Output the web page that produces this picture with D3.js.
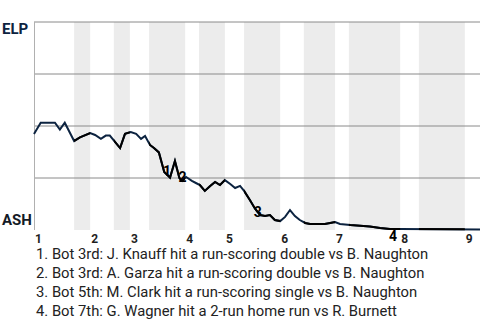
<!DOCTYPE html>
<html>
<head>
<meta charset="utf-8">
<script src="https://cdn.jsdelivr.net/npm/d3@7"></script>
<style>
  body { margin: 0; background: #fff; }
  text { font-family: Roboto, "Noto Sans", sans-serif; }
</style>
</head>
<body>
<div id="chart"></div>
<script>
// game progress (0-100) and ELP win probability for each play
var progress = [0, 1.5, 4.7, 5.8, 6.9, 9.0, 10.3, 12.6, 13.7, 15.0, 16.1, 17.0, 19.3, 20.4, 21.7, 22.9,
    24.0, 24.9, 26.0, 26.9, 28.0, 29.2, 30.5, 31.6, 32.6, 33.2, 34.1, 35.4, 36.3, 37.2, 38.3, 39.5,
    40.6, 41.7, 42.8, 44.0, 45.1, 46.2, 47.1, 48.4, 49.6, 50.7, 51.8, 52.9, 54.0, 55.2, 56.3, 57.4,
    58.5, 59.6, 60.8, 61.9, 65.2, 66.4, 67.5, 68.6, 70.9, 72.4, 75.3, 77.6, 79.8, 82.1, 100];
var winProb = [0.462, 0.516, 0.516, 0.483, 0.516, 0.428, 0.445, 0.466, 0.457, 0.438, 0.454, 0.454, 0.394, 0.462, 0.471, 0.462,
    0.438, 0.452, 0.409, 0.394, 0.373, 0.279, 0.252, 0.332, 0.250, 0.236, 0.255, 0.236, 0.226, 0.216, 0.188, 0.212,
    0.231, 0.216, 0.240, 0.221, 0.202, 0.212, 0.188, 0.144, 0.101, 0.072, 0.067, 0.072, 0.048, 0.043, 0.063, 0.096,
    0.067, 0.048, 0.034, 0.029, 0.029, 0.034, 0.038, 0.029, 0.024, 0.022, 0.017, 0.010, 0.005, 0.005, 0.003];

// innings: where each top half starts and where each bottom half starts
var innings = ["1", "2", "3", "4", "5", "6", "7", "8", "9"];
var topStart = [0, 12.6, 21.5, 33.9, 42.8, 55.2, 67.5, 82.1, 96.6];
var bottomStart = [9.0, 17.9, 25.8, 37.0, 47.1, 60.5, 70.6, 86.3];

// scoring plays
var noteLabels = ["1", "2", "3", "4"];
var noteProgress = [29.8, 33.3, 50.2, 80.5];
var noteWinProb = [0.284, 0.257, 0.087, -0.029];
var notes = [
    "1. Bot 3rd: J. Knauff hit a run-scoring double vs B. Naughton",
    "2. Bot 3rd: A. Garza hit a run-scoring double vs B. Naughton",
    "3. Bot 5th: M. Clark hit a run-scoring single vs B. Naughton",
    "4. Bot 7th: G. Wagner hit a 2-run home run vs R. Burnett"
];

var teams = ["ELP", "ASH"];
var gridValues = [0.25, 0.5, 0.75, 1];

var svgWidth = 480;
var svgHeight = 320;
var margin = { top: 22, right: 0, bottom: 90, left: 34 };
var width = svgWidth - margin.left - margin.right;
var height = svgHeight - margin.top - margin.bottom;

var svg = d3.select("#chart")
    .append("svg")
    .attr("width", svgWidth)
    .attr("height", svgHeight);

var Group = svg.append("g")
    .attr("transform", `translate(${margin.left}, ${margin.top})`);

var x = d3.scaleLinear().domain([0, 100]).range([0, width]);
var y = d3.scaleLinear().domain([0, 1]).range([height, 0]);

var halves = bottomStart.map(function(s, i) {
    return { start: s, end: topStart[i + 1] };
});

// shaded bottom halves
Group.selectAll(".band")
    .data(halves)
    .enter()
    .append("rect")
    .attr("class", "band")
    .attr("x", d => x(d.start))
    .attr("width", d => x(d.end) - x(d.start))
    .attr("y", y(1))
    .attr("height", y(0) - y(1))
    .attr("fill", "#ececec");

// gridlines
Group.selectAll(".grid")
    .data(gridValues)
    .enter()
    .append("line")
    .attr("x1", x(0))
    .attr("x2", x(100))
    .attr("y1", d => y(d))
    .attr("y2", d => y(d))
    .attr("stroke", "#8a8a8a")
    .attr("stroke-width", 1);

Group.append("line")
    .attr("x1", x(0) + 0.5)
    .attr("x2", x(0) + 0.5)
    .attr("y1", y(1))
    .attr("y2", y(0))
    .attr("stroke", "#b0b0b0");

// line, navy for ELP at bat, black for ASH at bat
var plays = progress.map((p, i) => ({ p: p, wp: winProb[i] }));
var line = d3.line().x(d => x(d.p)).y(d => y(d.wp));

var clip = svg.append("defs").append("clipPath").attr("id", "bottoms");
clip.selectAll("rect")
    .data(halves)
    .enter()
    .append("rect")
    .attr("x", d => x(d.start))
    .attr("width", d => x(d.end) - x(d.start))
    .attr("y", -10)
    .attr("height", height + 20);

Group.append("path")
    .datum(plays)
    .attr("d", line)
    .attr("fill", "none")
    .attr("stroke", "#0c2340")
    .attr("stroke-width", 2);

Group.append("path")
    .datum(plays)
    .attr("d", line)
    .attr("fill", "none")
    .attr("stroke", "#000")
    .attr("stroke-width", 2)
    .attr("clip-path", "url(#bottoms)");

// scoring play markers
Group.selectAll(".mark")
    .data(noteLabels)
    .enter()
    .append("text")
    .attr("x", (d, i) => x(noteProgress[i]))
    .attr("y", (d, i) => y(noteWinProb[i]))
    .attr("dy", "0.36em")
    .style("text-anchor", "middle")
    .style("font-size", "14px")
    .style("font-weight", "bold")
    .style("fill", "#000")
    .text(d => d);

// inning labels
Group.selectAll(".inning")
    .data(innings)
    .enter()
    .append("text")
    .attr("x", (d, i) => x(topStart[i]) + 1)
    .attr("y", height + 13)
    .style("font-size", "12px")
    .style("font-weight", "bold")
    .style("fill", "#1e1e1e")
    .text(d => d);

// team labels
svg.append("text")
    .attr("x", 2)
    .attr("y", margin.top + y(1) + 12)
    .style("font-size", "15px")
    .style("font-weight", "bold")
    .style("fill", "#0c2340")
    .text(teams[0]);

svg.append("text")
    .attr("x", 2)
    .attr("y", margin.top + y(0) - 5)
    .style("font-size", "15px")
    .style("font-weight", "bold")
    .style("fill", "#141a26")
    .text(teams[1]);

// notes below the chart
svg.selectAll(".note")
    .data(notes)
    .enter()
    .append("text")
    .attr("x", 36)
    .attr("y", (d, i) => 259 + i * 19)
    .style("font-size", "14.8px")
    .style("fill", "#222")
    .text(d => d);
</script>
</body>
</html>
